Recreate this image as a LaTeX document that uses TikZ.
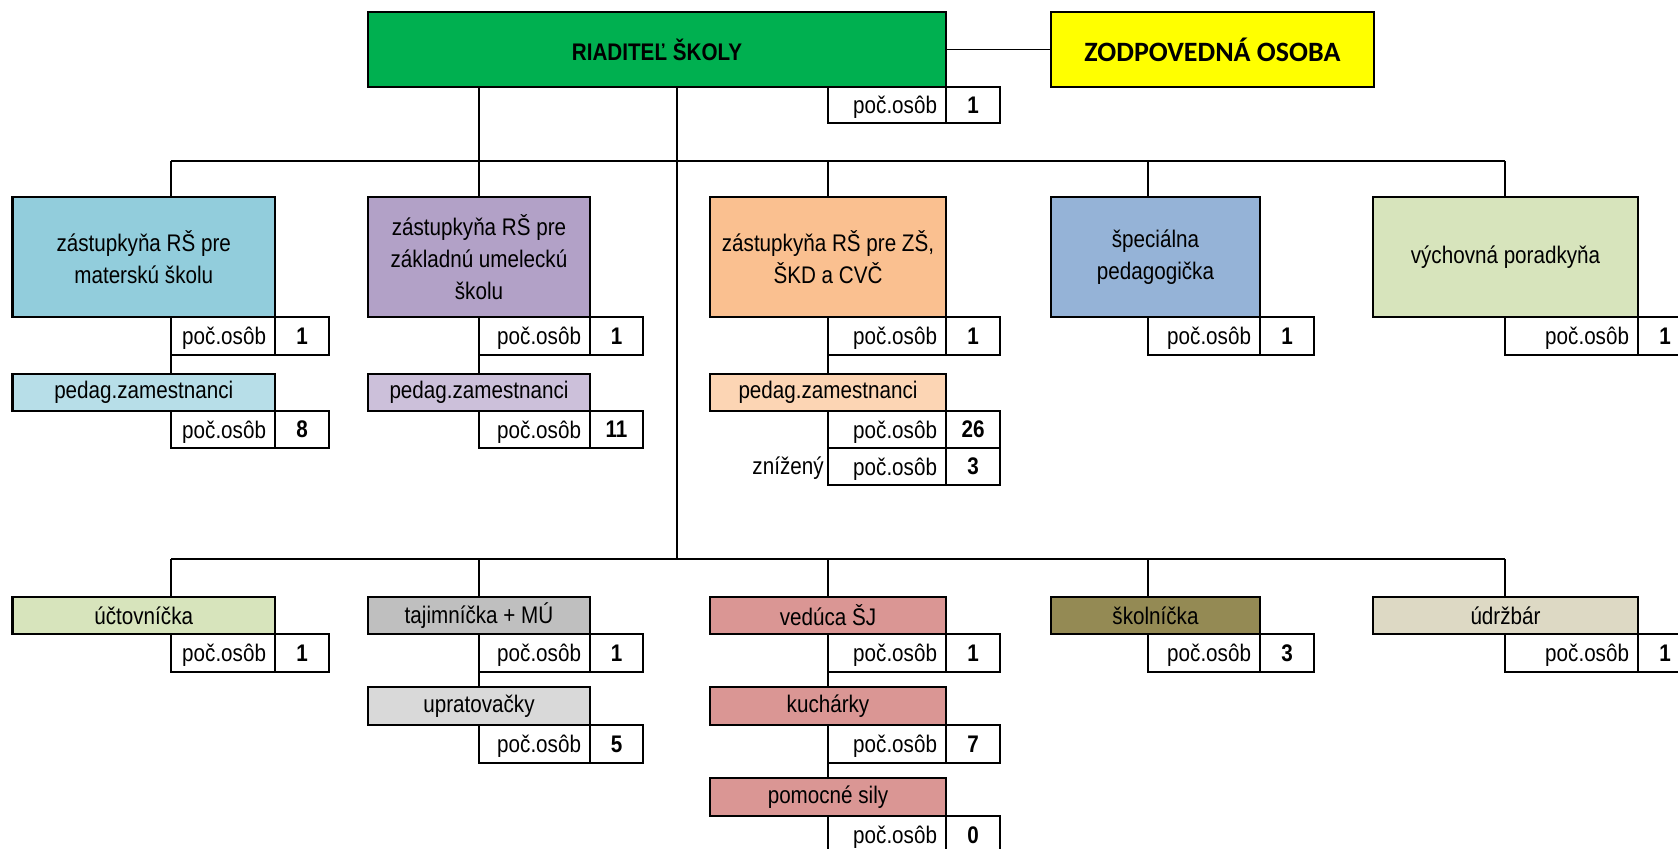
\documentclass[tikz,border=0pt]{standalone}
\usepackage{fontspec}
\setmainfont{Liberation Sans}[FakeStretch=0.86]
\newfontfamily\calibfont{Carlito}
\definecolor{cGreen}{HTML}{00B050}
\definecolor{cYellow}{HTML}{FFFF00}
\definecolor{cLBlue}{HTML}{92CDDC}
\definecolor{cPurple}{HTML}{B2A1C7}
\definecolor{cOrange}{HTML}{FAC090}
\definecolor{cBlue}{HTML}{95B3D7}
\definecolor{cLGreen}{HTML}{D7E4BC}
\definecolor{cPLBlue}{HTML}{B7DEE8}
\definecolor{cPPurple}{HTML}{CCC0DA}
\definecolor{cPOrange}{HTML}{FCD5B4}
\definecolor{cGray}{HTML}{BFBFBF}
\definecolor{cLGray}{HTML}{D9D9D9}
\definecolor{cRose}{HTML}{DA9694}
\definecolor{cOlive}{HTML}{948A54}
\definecolor{cBeige}{HTML}{DDD9C4}
\newcommand{\obox}[7]{%
  \pgfmathsetmacro\bw{(#4-#2)*0.5}\pgfmathsetmacro\bh{(#5-#3)*0.5}%
  \node[box,#6,minimum width=\bw pt,minimum height=\bh pt] (#1) at ({(#2+#4)/2},{(#3+#5)/2}) {#7};}
\newcommand{\pocet}[7]{%
  \pgfmathsetmacro\bw{(#3-#2)*0.5}\pgfmathsetmacro\tw{(#3-#2-18)*0.5}%
  \pgfmathsetmacro\nw{(#4-#3)*0.5}\pgfmathsetmacro\bh{(#6-#5)*0.5}%
  \node[box,fill=white,minimum width=\bw pt,minimum height=\bh pt,text width=\tw pt,align=right,text height=8.8pt,text depth=0pt] (#1) at ({(#2+#3)/2},{(#5+#6)/2}) {poč.osôb};
  \node[box,fill=white,minimum width=\nw pt,minimum height=\bh pt,font=\bfseries\fontsize{12}{16}\selectfont] (#1n) at ({(#3+#4)/2},{(#5+#6)/2}) {#7};}
\begin{document}
\begin{tikzpicture}[x=0.5pt,y=-0.5pt,
  box/.style={draw,line width=1.4pt,inner sep=0pt,outer sep=0pt,align=center,font=\fontsize{12}{16}\selectfont},
  conn/.style={line width=1.4pt},
  thinconn/.style={line width=0.7pt}]
\useasboundingbox (0,0) rectangle (1678,849);
\clip (0,0) rectangle (1678,849);
% coordinates on the bus lines
\coordinate (t1) at (171,161);
\coordinate (t5) at (1505,161);
\coordinate (b1) at (171,559);
\coordinate (b5) at (1505,559);
\coordinate (bc) at (677,559);
% connectors (drawn first, boxes on top)
\draw[conn] (t1) -- (t5);
\draw[conn] (b1) -- (b5);
% top
\obox{rs}{368}{12}{946}{87}{fill=cGreen,font=\bfseries\fontsize{12}{16}\selectfont}{RIADITEĽ ŠKOLY}
\obox{zo}{1051}{12}{1374}{87}{fill=cYellow,font=\calibfont\bfseries\fontsize{14}{16}\selectfont}{ZODPOVEDNÁ OSOBA}
\pocet{rsp}{828}{946}{1000}{87}{123}{1}
\draw[thinconn] (rs.east) -- (zo.west);
% level 1 boxes
\obox{ms}{12.5}{197}{275}{317}{fill=cLBlue}{zástupkyňa RŠ pre\\materskú školu}
\obox{zu}{368}{197}{590}{317}{fill=cPurple}{zástupkyňa RŠ pre\\základnú umeleckú\\školu}
\obox{zs}{710}{197}{946}{317}{fill=cOrange}{zástupkyňa RŠ pre ZŠ,\\ŠKD a CVČ}
\obox{sp}{1051}{197}{1260}{317}{fill=cBlue}{špeciálna\\pedagogička}
\obox{vp}{1373}{197}{1638}{317}{fill=cLGreen}{výchovná poradkyňa}
\pocet{msp}{171}{275}{329}{317}{355}{1}
\pocet{zup}{479}{590}{643}{317}{355}{1}
\pocet{zsp}{828}{946}{1000}{317}{355}{1}
\pocet{spp}{1148}{1260}{1314}{317}{355}{1}
\pocet{vpp}{1505}{1638}{1692}{317}{355}{1}
\obox{msd}{12.5}{374}{275}{411}{fill=cPLBlue}{pedag.zamestnanci}
\obox{zud}{368}{374}{590}{411}{fill=cPPurple}{pedag.zamestnanci}
\obox{zsd}{710}{374}{946}{411}{fill=cPOrange}{pedag.zamestnanci}
\pocet{msq}{171}{275}{329}{411}{448}{8}
\pocet{zuq}{479}{590}{643}{411}{448}{11}
\pocet{zsq}{828}{946}{1000}{411}{448}{26}
\pocet{zsr}{828}{946}{1000}{448}{485}{3}
\node[anchor=east,inner sep=0pt,font=\fontsize{12}{16}\selectfont] (zniz) at (824,468) {znížený};
% level 1 connectors
\draw[conn] (t1) -- (ms.north -| t1);
\draw[conn] (rs.south -| zup.west) -- (zu.north -| zup.west);
\draw[conn] (zsp.west |- t1) -- (zs.north -| zsp.west);
\draw[conn] (spp.west |- t1) -- (sp.north -| spp.west);
\draw[conn] (t5) -- (vp.north -| t5);
\draw[conn] (rs.south -| bc) -- (bc);
\draw[conn] (msp.south west) -- (msd.north -| msp.west);
\draw[conn] (zup.south west) -- (zud.north -| zup.west);
\draw[conn] (zsp.south west) -- (zsd.north -| zsp.west);
% level 2 boxes
\obox{uc}{12.5}{597}{275}{634}{fill=cLGreen}{účtovníčka}
\obox{ta}{368}{597}{590}{634}{fill=cGray}{tajimníčka + MÚ}
\obox{ve}{710}{597}{946}{634}{fill=cRose}{vedúca ŠJ}
\obox{sk}{1051}{597}{1260}{634}{fill=cOlive}{školníčka}
\obox{ud}{1373}{597}{1638}{634}{fill=cBeige}{údržbár}
\pocet{ucp}{171}{275}{329}{634}{672}{1}
\pocet{tap}{479}{590}{643}{634}{672}{1}
\pocet{vep}{828}{946}{1000}{634}{672}{1}
\pocet{skp}{1148}{1260}{1314}{634}{672}{3}
\pocet{udp}{1505}{1638}{1692}{634}{672}{1}
\obox{up}{368}{687}{590}{725}{fill=cLGray}{upratovačky}
\obox{ku}{710}{687}{946}{725}{fill=cRose}{kuchárky}
\pocet{upp}{479}{590}{643}{725}{763}{5}
\pocet{kup}{828}{946}{1000}{725}{763}{7}
\obox{po}{710}{778}{946}{816}{fill=cRose}{pomocné sily}
\pocet{pop}{828}{946}{1000}{816}{854}{0}
% level 2 connectors
\draw[conn] (b1) -- (uc.north -| b1);
\draw[conn] (tap.west |- b1) -- (ta.north -| tap.west);
\draw[conn] (vep.west |- b1) -- (ve.north -| vep.west);
\draw[conn] (skp.west |- b1) -- (sk.north -| skp.west);
\draw[conn] (b5) -- (ud.north -| b5);
\draw[conn] (tap.south west) -- (up.north -| tap.west);
\draw[conn] (vep.south west) -- (ku.north -| vep.west);
\draw[conn] (kup.south west) -- (po.north -| kup.west);
\end{tikzpicture}
\end{document}
